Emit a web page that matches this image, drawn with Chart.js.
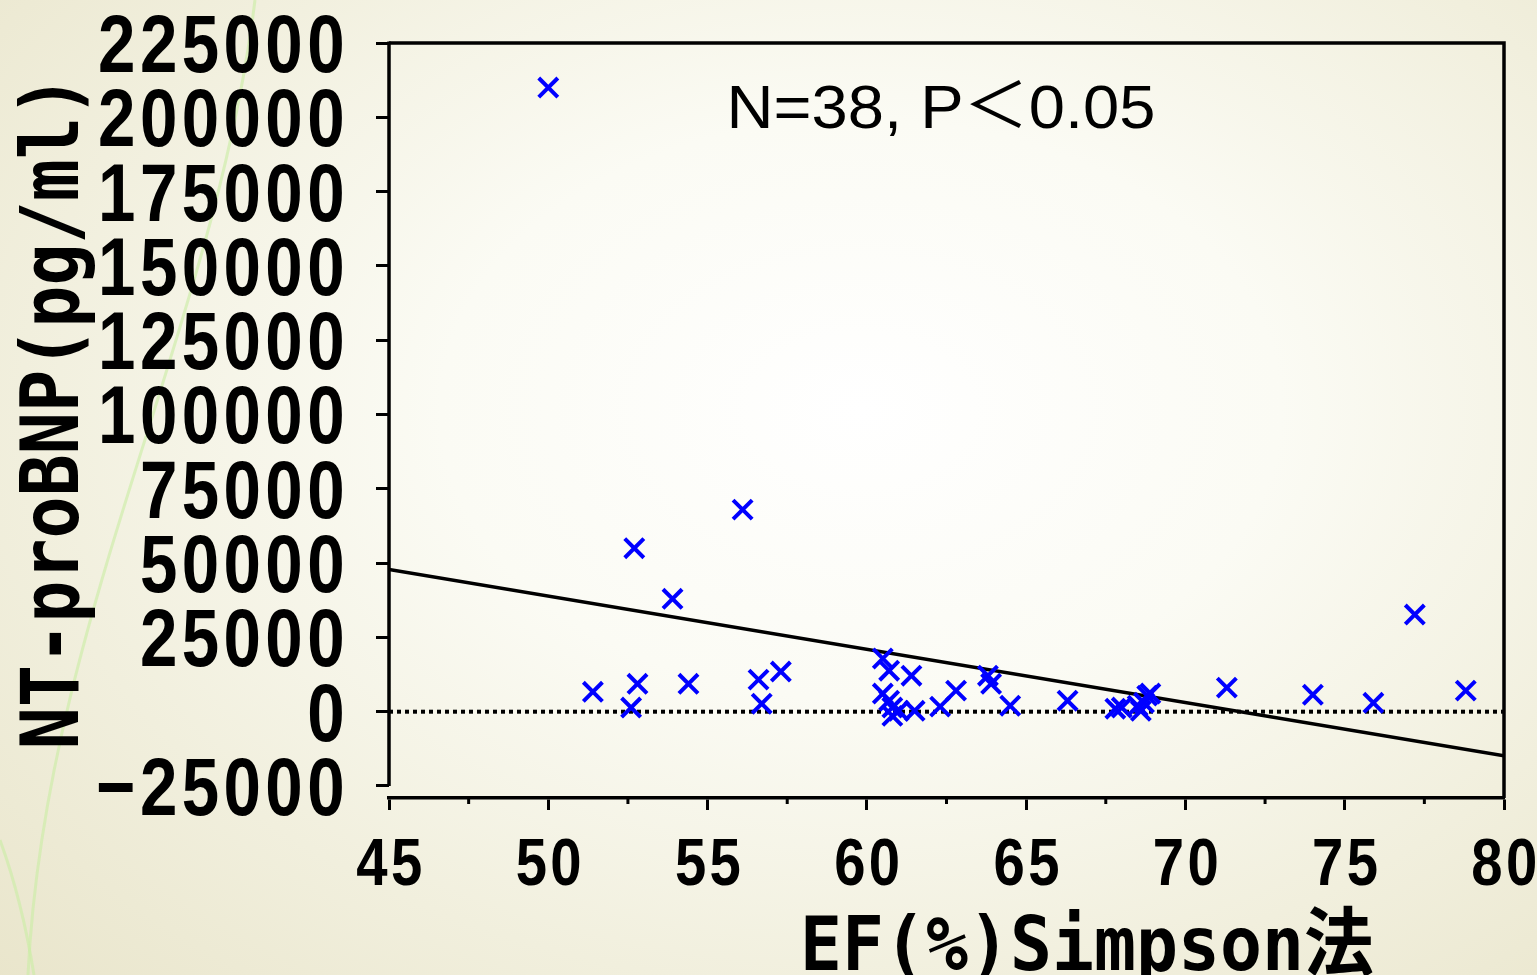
<!DOCTYPE html>
<html>
<head>
<meta charset="utf-8">
<script src="https://cdn.jsdelivr.net/npm/chart.js@4"></script>
<style>
  html, body { margin: 0; padding: 0; }
  body {
    width: 1537px; height: 975px; overflow: hidden;
    background: radial-gradient(ellipse 78% 85% at 56% 42%, #ffffff 0%, #fbfbf4 35%, #f1efdd 70%, #e9e5cb 100%);
  }
  #wrap { position: relative; width: 1537px; height: 975px; }
</style>
</head>
<body>
<div id="wrap"><canvas id="scatterChart"></canvas></div>
<script>
// EF (%) by Simpson method vs NT-proBNP (pg/ml)
const efValues = [50.0, 56.1, 52.7, 53.9, 51.4, 52.6, 52.8, 54.4, 56.6, 56.7, 57.3,
  77.2, 71.3, 74.0, 75.9, 78.8,
  60.5, 60.7, 61.4, 60.5, 60.7, 60.8, 61.0, 60.8, 61.5,
  62.3, 62.8, 63.8, 63.9, 64.5,
  66.3, 67.8, 68.0, 68.5, 68.7, 68.8, 68.9, 68.6];
const bnpValues = [210000, 68000, 55000, 38000, 6700, 1400, 9400, 9400, 10800, 2700, 13500,
  32700, 8100, 5700, 3000, 7100,
  17900, 13800, 12100, 6100, 3700, 1400, 300, -1400, 300,
  1700, 7100, 12100, 9400, 2000,
  3700, 1000, 1400, 2000, 3000, 5400, 6100, 300];

// regression line end points
const trendX = [45, 80];
const trendY = [47850, -14830];

const xTicks = [45, 50, 55, 60, 65, 70, 75, 80];
const yTicks = [-25000, 0, 25000, 50000, 75000, 100000, 125000, 150000, 175000, 200000, 225000];

const xTitle = 'EF(%)Simpson法';
const yTitle = 'NT-proBNP(pg/ml)';
const note = 'N=38, P＜0.05';

const sansBold = "bold {s}px 'Liberation Sans', Arial, 'Noto Sans CJK JP', sans-serif";
const monoBold = "bold {s}px 'DejaVu Sans Mono', 'Noto Sans CJK JP', monospace";

// text squeezed / stretched horizontally, like the narrow gothic of the slide
function drawText(c, text, x, y, font, sx, align, spacing) {
  c.save();
  c.font = font;
  c.letterSpacing = (spacing || 0) + 'px';
  c.textAlign = align;
  c.textBaseline = 'alphabetic';
  c.translate(x, y);
  c.scale(sx, 1);
  c.fillText(text, 0, 0);
  c.restore();
}

const fmt = v => (v < 0 ? '\u2212' + Math.abs(v) : String(v));

document.addEventListener('DOMContentLoaded', () => {
  const ctx = document.getElementById('scatterChart').getContext('2d');

  const framePlugin = {
    id: 'frame',
    beforeDraw(chart) {
      // faint green swirls of the slide background
      const c = chart.ctx;
      c.save();
      c.strokeStyle = 'rgba(205, 236, 168, 0.65)';
      c.lineWidth = 3;
      c.beginPath();
      c.moveTo(255, 0);
      c.bezierCurveTo(215, 330, 45, 620, 28, 975);
      c.stroke();
      c.beginPath();
      c.moveTo(0, 840);
      c.quadraticCurveTo(22, 900, 34, 975);
      c.stroke();
      c.restore();
    },
    afterDraw(chart) {
      const c = chart.ctx;
      const a = chart.chartArea;
      const x = chart.scales.x;
      const y = chart.scales.y;
      c.save();
      c.strokeStyle = '#000';
      c.lineWidth = 3.5;
      // left axis line, stops at the lowest tick
      c.beginPath();
      c.moveTo(a.left, a.top - 1.5);
      c.lineTo(a.left, y.getPixelForValue(yTicks[0]));
      c.stroke();
      // top and right frame
      c.beginPath();
      c.moveTo(a.left, a.top);
      c.lineTo(a.right, a.top);
      c.lineTo(a.right, a.bottom);
      c.stroke();
      // minor ticks on x
      c.lineWidth = 3;
      for (let i = 0; i < xTicks.length - 1; i++) {
        const px = x.getPixelForValue((xTicks[i] + xTicks[i + 1]) / 2);
        c.beginPath();
        c.moveTo(px, a.bottom);
        c.lineTo(px, a.bottom + 6);
        c.stroke();
      }
      c.restore();

      c.save();
      c.fillStyle = '#000';
      // tick labels
      y.ticks.forEach(t => {
        const py = y.getPixelForValue(t.value);
        drawText(c, fmt(t.value), a.left - 40, py + 29, sansBold.replace('{s}', 82), 0.82, 'right', 5.4);
      });
      x.ticks.forEach(t => {
        const px = x.getPixelForValue(t.value);
        drawText(c, fmt(t.value), px + 2, a.bottom + 87, sansBold.replace('{s}', 67), 0.84, 'center', 4);
      });
      // axis titles
      drawText(c, xTitle, 800, 970, monoBold.replace('{s}', 75), 0.93, 'left');
      c.save();
      c.translate(78, 412);
      c.rotate(-Math.PI / 2);
      drawText(c, yTitle, 0, 0, monoBold.replace('{s}', 80), 0.875, 'center');
      c.restore();
      // annotation
      drawText(c, note, 941, 128, "62px 'Liberation Sans', Arial, 'Noto Sans CJK JP', sans-serif", 1.05, 'center');
      c.restore();
    }
  };

  new Chart(ctx, {
    type: 'scatter',
    data: {
      datasets: [
        {
          label: 'NT-proBNP',
          data: efValues.map((v, i) => ({ x: v, y: bnpValues[i] })),
          pointStyle: 'crossRot',
          pointRadius: 13.5,
          pointHoverRadius: 13.5,
          pointBorderWidth: 4,
          borderColor: '#0000FF',
          backgroundColor: '#0000FF',
          clip: false
        },
        {
          type: 'line',
          label: 'trend',
          data: trendX.map((v, i) => ({ x: v, y: trendY[i] })),
          borderColor: '#000',
          borderWidth: 3.5,
          pointRadius: 0,
          fill: false
        },
        {
          type: 'line',
          label: 'zero',
          data: [{ x: xTicks[0], y: 0 }, { x: xTicks[xTicks.length - 1], y: 0 }],
          borderColor: '#000',
          borderWidth: 4,
          borderDash: [4, 4],
          pointRadius: 0,
          fill: false
        }
      ]
    },
    options: {
      responsive: true,
      maintainAspectRatio: false,
      animation: false,
      layout: { padding: { left: 89, right: 33, top: 43, bottom: 0 } },
      plugins: {
        legend: { display: false },
        tooltip: { enabled: false }
      },
      scales: {
        x: {
          type: 'linear',
          min: 45,
          max: 80,
          afterBuildTicks: s => { s.ticks = xTicks.map(v => ({ value: v })); },
          afterFit: s => { s.height = 177; s.paddingLeft = 0; s.paddingRight = 0; },
          border: { display: true, color: '#000', width: 3.5 },
          grid: { drawOnChartArea: false, tickLength: 12, tickWidth: 3, color: '#000', tickColor: '#000' },
          ticks: { display: false }
        },
        y: {
          type: 'linear',
          min: -29040,
          max: 225000,
          afterBuildTicks: s => { s.ticks = yTicks.map(v => ({ value: v })); },
          afterFit: s => { s.width = 300; s.paddingTop = 0; s.paddingBottom = 0; },
          border: { display: false },
          grid: { drawOnChartArea: false, tickLength: 13, tickWidth: 3, color: '#000', tickColor: '#000' },
          ticks: { display: false }
        }
      }
    },
    plugins: [framePlugin]
  });
});
</script>
</body>
</html>
